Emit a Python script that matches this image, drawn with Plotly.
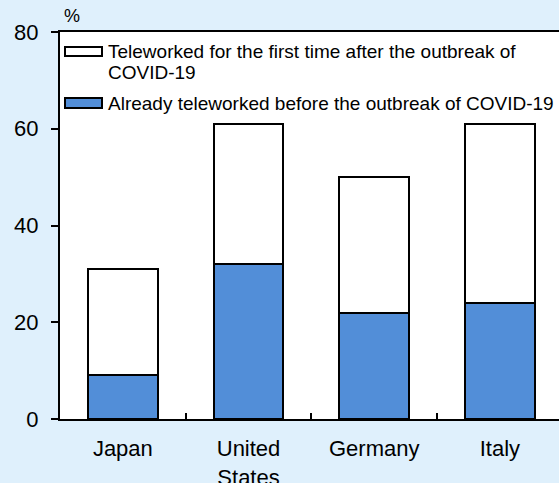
import plotly.graph_objects as go

countries = ["Japan", "United<br>States", "Germany", "Italy"]
already_before = [9, 32, 22, 24]
first_time_after = [22, 29, 28, 37]
series_names = ["Teleworked for the first time after the outbreak of COVID-19",
                "Already teleworked before the outbreak of COVID-19"]
y_ticks = [0, 20, 40, 60, 80]

BG = "#DFF0FC"
BLUE = "#528ED8"

W, H = 559, 483
L, T, B = 60, 32, 64
PW = W - L
PH = H - T - B

def px(x):
    return (x - L) / PW

def py(y):
    return (H - B - y) / PH

fig = go.Figure()
fig.add_trace(go.Bar(x=countries, y=already_before, name=series_names[1],
                     marker=dict(color=BLUE, line=dict(color="black", width=2)),
                     width=0.555))
fig.add_trace(go.Bar(x=countries, y=first_time_after, name=series_names[0],
                     marker=dict(color="white", line=dict(color="black", width=2)),
                     width=0.555))

shapes = []
for (y0, y1, col) in [(47, 56, "white"), (98, 108, BLUE)]:
    shapes.append(dict(type="rect", xref="paper", yref="paper",
                       x0=px(65), x1=px(102), y0=py(y1), y1=py(y0),
                       fillcolor=col, line=dict(color="black", width=2)))

font = dict(family="Liberation Sans, Arial, sans-serif", size=19, color="black")
ann = [
    dict(text="Teleworked for the first time after the outbreak of", x=px(106), y=py(51)),
    dict(text="COVID-19", x=px(106), y=py(72)),
    dict(text=series_names[1], x=px(106), y=py(103)),
]
annotations = [dict(a, xref="paper", yref="paper", xanchor="left", yanchor="middle",
                    showarrow=False, font=font) for a in ann]
annotations.append(dict(text="%", xref="paper", yref="paper", x=px(62), y=py(16),
                        xanchor="left", yanchor="middle", showarrow=False,
                        font=dict(family="Liberation Sans, Arial, sans-serif", size=18, color="black")))

fig.update_layout(
    width=W, height=H,
    margin=dict(l=L, r=0, t=T, b=B, pad=0),
    paper_bgcolor=BG, plot_bgcolor="white",
    barmode="stack", showlegend=False,
    shapes=shapes, annotations=annotations,
    font=dict(family="Liberation Sans, Arial, sans-serif", size=21, color="black"),
)
fig.update_xaxes(range=[-0.5, 3.47], showline=True, linecolor="black", linewidth=2,
                 mirror=True, ticks="inside", tickson="boundaries", ticklen=6,
                 tickwidth=2, tickcolor="black", showgrid=False, automargin=False,
                 tickfont=dict(size=22), ticklabelstandoff=9)
fig.update_yaxes(range=[0, 80], tickvals=y_ticks, showline=True, linecolor="black",
                 linewidth=2, ticks="outside", ticklen=7, tickwidth=2,
                 tickcolor="black", showgrid=False, zeroline=False, automargin=False,
                 tickfont=dict(size=22), ticklabelstandoff=8)

fig.write_html("out.html")
